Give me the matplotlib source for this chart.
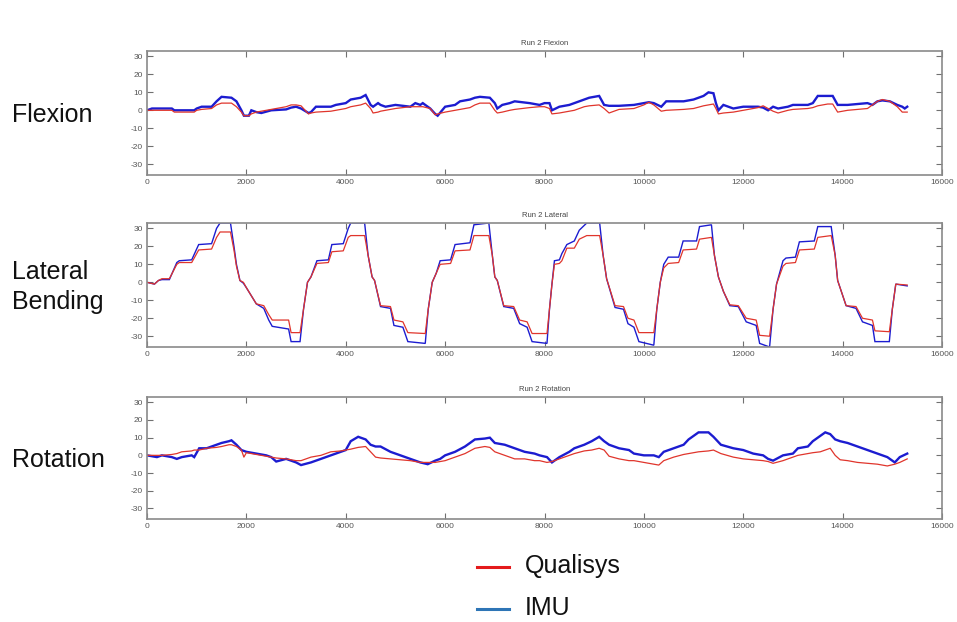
import matplotlib
matplotlib.use("Agg")
import matplotlib.pyplot as plt
from matplotlib.lines import Line2D

plt.rcParams["axes.unicode_minus"] = False
plt.rcParams["font.family"] = ["Liberation Sans", "DejaVu Sans"]

# sample index (shared by both systems in each panel)
flex_x = [0, 100, 500, 550, 700, 950, 1000, 1100, 1300, 1400, 1500, 1700, 1800, 1900, 1950,
          2050, 2100, 2200, 2300, 2500, 2800, 2900, 3000, 3100, 3250, 3300, 3400, 3700, 3800,
          4000, 4100, 4300, 4400, 4500, 4550, 4650, 4700, 4800, 5000, 5300, 5400, 5500, 5550,
          5700, 5800, 5850, 6000, 6200, 6300, 6500, 6600, 6700, 6900, 7000, 7050, 7150, 7300,
          7400, 7700, 7900, 8000, 8100, 8150, 8300, 8500, 8600, 8800, 8900, 9100, 9200, 9300,
          9500, 9800, 10000, 10100, 10200, 10350, 10450, 10800, 11000, 11200, 11300, 11400,
          11450, 11500, 11600, 11800, 12000, 12300, 12400, 12500, 12600, 12700, 12900, 13000,
          13300, 13400, 13500, 13700, 13800, 13900, 14100, 14300, 14500, 14600, 14700, 14800,
          14950, 15100, 15200, 15250, 15300]
flex_qualisys = [0, 0, 0, -1, -1, -1, 0, 0.5, 1, 3, 4, 4, 2, -1, -3,
                 -3, -2, -1, -0.5, 0.5, 2, 3, 3, 2.5, -2, -1.5, -1, -0.5, 0,
                 1, 2, 3, 4, 1, -1.5, -1, -0.5, 0, 1, 2, 2, 2, 2,
                 1, -2.5, -2, -1, 0, 0.5, 1.5, 3, 4, 4, 0, -1.5, -1, 0,
                 0.5, 1.5, 2, 2, 1, -2, -1.5, -0.5, 0, 2, 2.5, 3, 1, -1.5,
                 0.5, 1, 3, 4.5, 3, -0.5, 0, 0.5, 1, 2.5, 3, 3.5,
                 1, -2, -1.5, -1, 0, 1.5, 2.5, 1, -0.5, -1.5, 0, 0.5,
                 1, 1.5, 2.5, 3.5, 3.5, -1, 0, 0.5, 1, 3, 5, 6,
                 5, 2, -1, -1, -1]
flex_imu = [0, 1, 1, 0, 0, 0, 1, 2, 2, 5, 7.5, 7, 5, 0, -3,
            -3, 0, -1, -1.5, 0, 0.5, 1.5, 2, 1, -1.5, -1, 2, 2, 3,
            4, 6, 7, 8.5, 3, 2, 4, 3, 2, 3, 2, 4, 3, 4,
            1, -2, -3, 2, 3, 5, 6, 7, 7.5, 7, 4, 1, 3, 4,
            5, 4, 3, 4, 4, 0, 2, 3, 4, 6, 7, 8, 3, 2.5,
            2.5, 3, 4, 4.5, 4, 2, 5, 5, 6, 8, 10, 9.5,
            4, 0, 3, 1, 2, 2, 1.5, 0, 2, 1, 2, 3,
            3, 4, 8, 8, 8, 3, 3, 3.5, 4, 3, 5, 5.5,
            5, 3, 2, 1, 2]

lat_x = [0, 150, 230, 300, 450, 600, 650, 900, 1040, 1300, 1400, 1470, 1680, 1750, 1800,
         1870, 1940, 2000, 2200, 2350, 2450, 2520, 2850, 2900, 3080, 3150, 3230, 3300, 3420,
         3650, 3720, 3950, 4050, 4100, 4380, 4450, 4530, 4580, 4700, 4900, 4970, 5150, 5250,
         5600, 5660, 5740, 5820, 5900, 6110, 6200, 6500, 6580, 6880, 6950, 7000, 7050, 7180,
         7380, 7500, 7650, 7750, 8050, 8100, 8150, 8200, 8300, 8350, 8450, 8600, 8700, 8850,
         9110, 9180, 9250, 9420, 9590, 9680, 9800, 9900, 10200, 10260, 10330, 10400, 10490,
         10700, 10790, 11060, 11120, 11360, 11420, 11500, 11600, 11730, 11900, 12060, 12260,
         12330, 12530, 12600, 12670, 12800, 12860, 13050, 13130, 13430, 13500, 13770, 13850,
         13900, 14070, 14270, 14400, 14600, 14650, 14940, 15000, 15070, 15300]
lat_qualisys = [0, -1, 1, 2, 2, 10, 11, 11, 18, 18.5, 25, 28, 28, 18, 9,
                1, 0, -3, -12, -13, -18, -21, -21, -28, -28, -15, 0, 3, 10.5,
                11, 17, 17.5, 25, 26, 26, 15, 3, 1, -13, -13.5, -21, -22, -28,
                -28.5, -15, 0, 5, 10, 10.5, 17.5, 18, 26, 26, 15, 3, 1, -13,
                -13.5, -21, -22, -28.5, -28.5, -15, -1, 10, 10.5, 12, 19, 19, 24, 26,
                26, 15, 2, -13, -13.5, -20, -21, -28, -28, -15, 0, 8, 10.5,
                11, 18, 18.5, 24, 25, 15, 3, -5, -12.5, -13, -20, -21,
                -29.5, -30, -15, -1, 9, 10.5, 11, 18, 18.5, 25, 26, 15,
                1, -13, -13.5, -20, -21, -27, -27.5, -15, -1, -1.5]
lat_imu = [0, -1, 1, 1.5, 1.5, 11, 12, 12.5, 21, 21.5, 30, 33, 33, 20, 10,
           1, -0.5, -3, -12, -14.5, -21, -24.5, -26, -33, -33, -15, 0, 3, 12,
           12.5, 21, 21.5, 30, 33, 33, 15, 3, 1, -13.5, -14.5, -24, -25, -33,
           -34, -15, 0, 5, 12, 12.5, 21, 22, 32, 33, 15, 3, 1, -13.5,
           -14.5, -23, -25, -33, -34, -15, -1, 12, 12.5, 16, 21, 23, 29, 33,
           33, 15, 2, -14, -15, -23, -25, -33, -35, -15, 0, 10, 14,
           14, 23, 23, 31, 32, 15, 3, -5, -13, -13.5, -22, -24,
           -34, -36, -15, -1, 12, 13.5, 14, 22.5, 23, 31, 31, 15,
           1, -13, -14.5, -22, -24, -33, -33, -15, -1, -2]

rot_x = [0, 200, 300, 500, 600, 700, 900, 950, 1050, 1200, 1400, 1500, 1650, 1700, 1800,
         1900, 1950, 2000, 2200, 2400, 2500, 2600, 2800, 2900, 3000, 3100, 3300, 3500, 3700,
         3900, 4000, 4100, 4250, 4400, 4500, 4600, 4700, 4900, 5100, 5300, 5500, 5650, 5800,
         5900, 6000, 6200, 6400, 6500, 6600, 6800, 6900, 7000, 7200, 7400, 7600, 7800, 7900,
         8050, 8150, 8300, 8500, 8600, 8800, 8950, 9100, 9200, 9300, 9500, 9700, 9800, 10000,
         10200, 10300, 10400, 10600, 10800, 10900, 11100, 11300, 11400, 11550, 11800, 12000,
         12200, 12400, 12500, 12600, 12800, 13000, 13100, 13300, 13400, 13550, 13650, 13750,
         13850, 13950, 14100, 14300, 14500, 14700, 14900, 15050, 15150, 15300]
rot_qualisys = [0, 0, 0, 0.5, 1, 2, 2.5, 3, 3, 4, 4.5, 5, 6, 6, 5,
                3, -1, 1.5, 0.5, -0.5, -1, -1.5, -2, -2.5, -3, -3, -1, 0, 2,
                2.5, 3, 3.5, 4.5, 5, 2, -1, -1.5, -2, -2.5, -3, -4, -4, -4,
                -3.5, -3, -1, 1, 2.5, 4, 5, 4.5, 2, 0, -2, -2, -3, -3,
                -4, -3.5, -2, 0, 1, 2.5, 3, 4, 3, -0.5, -2, -3, -3, -4,
                -5, -5.5, -3, -1, 0.5, 1, 2, 2.5, 3, 1, -1, -2,
                -2.5, -3, -3.5, -4.5, -3, -1, 0, 1, 1.5, 2, 3, 4,
                0, -2.5, -3, -4, -4.5, -5, -6, -5, -4, -2]
rot_imu = [0, -1, 0, -1, -2, -1, 0, -1, 4, 4, 6, 7, 8, 8.5, 6,
           3, 2.5, 2, 1, 0, -1, -3.5, -2, -3, -4, -5.5, -4, -2, 0,
           2, 3, 8, 10.5, 9, 6, 5, 5, 2, 0, -2, -4, -5, -3,
           -2, 0, 2, 5, 7, 9, 9.5, 10, 7, 6, 4, 2, 1, 0,
           -1, -4, -1, 2, 4, 6, 8, 10.5, 8, 6, 4, 3, 1, 0,
           0, -1, 2, 4, 6, 9, 13, 13, 10.5, 6, 4, 3,
           1, 0, -2, -3, 0, 1, 4, 5, 8, 11, 13, 12,
           9, 8, 7, 5, 3, 1, -1, -4, -1, 1]

panels = [
    ("Run 2 Flexion", flex_x, flex_qualisys, flex_imu, "Flexion", 1.7),
    ("Run 2 Lateral", lat_x, lat_qualisys, lat_imu, "Lateral\nBending", 1.0),
    ("Run 2 Rotation", rot_x, rot_qualisys, rot_imu, "Rotation", 1.7),
]
# axes boxes in pixels: (top, bottom)
boxes = [(51, 175), (223, 347), (397, 519)]
W, H = 957, 622

fig = plt.figure(figsize=(W / 100, H / 100), dpi=100)
fig.patch.set_facecolor("white")

for (title, x, q, imu, label, imu_lw), (top, bot) in zip(panels, boxes):
    ax = fig.add_axes([147 / W, 1 - bot / H, 795 / W, (bot - top) / H])
    ax.plot(x, imu, color="#1c1cd0", lw=imu_lw, solid_joinstyle="miter")
    ax.plot(x, q, color="#e0352c", lw=0.9)
    ax.set_xlim(0, 16000)
    ax.set_ylim(-36, 33)
    ax.set_xticks(range(0, 16001, 2000))
    ax.set_yticks([-30, -20, -10, 0, 10, 20, 30])
    ax.tick_params(direction="in", length=4, width=0.8, color="#707070",
                   labelsize=6, labelcolor="#555555", top=True, right=True, pad=3)
    for s in ax.spines.values():
        s.set_color("#8a8a8a")
        s.set_linewidth(1.2)
    ax.set_title(title, fontsize=5.5, color="#444444", pad=4)
    yc = 1 - ((top + bot) / 2 + 2) / H
    fig.text(12 / W, yc, label, fontsize=18, color="#111111",
             ha="left", va="center", linespacing=1.3)

# legend
for yy, col, txt in [(567, "#e41a1c", "Qualisys"), (609, "#2e75b6", "IMU")]:
    fig.add_artist(Line2D([477 / W, 509 / W], [1 - yy / H, 1 - yy / H],
                          color=col, lw=2.2, transform=fig.transFigure))
    fig.text(525 / W, 1 - (yy - 1) / H, txt, fontsize=18, color="#111111",
             ha="left", va="center")

fig.savefig("out.png", dpi=100)
